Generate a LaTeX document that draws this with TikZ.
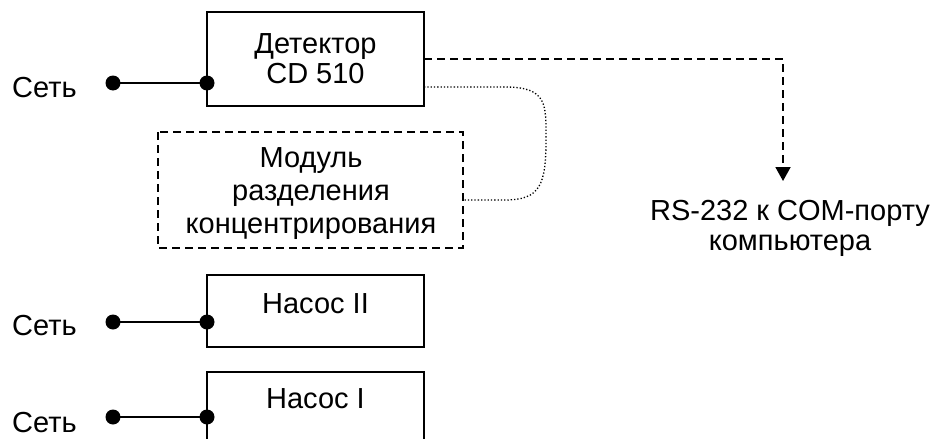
\documentclass[tikz,border=0pt]{standalone}
\usepackage{fontspec}
\setmainfont{Liberation Sans}
\usetikzlibrary{arrows.meta}
\begin{document}
\begin{tikzpicture}[x=1pt,y=-1pt,
  lbl/.style={font=\fontsize{29}{30}\selectfont, inner sep=0pt, align=center},
  solidbox/.style={draw, line width=1.9pt},
  dashbox/.style={draw, line width=1.9pt, dash pattern=on 8pt off 5pt},
  wire/.style={line width=1.9pt},
  pin/.style={circle, fill, inner sep=0pt, minimum size=15pt},
  datalink/.style={line width=1.9pt, dash pattern=on 8pt off 5pt, -{Triangle[length=14pt,width=15pt]}},
  auxlink/.style={line width=1.3pt, dotted}]
\useasboundingbox (0,0) rectangle (938,439);
% boxes
\draw[solidbox] (207,12) rectangle (424,106);
\coordinate (detW) at (207,83);
\coordinate (detE) at (424,59);
\coordinate (detE2) at (424,87);
\node[lbl, anchor=base] (det) at (315.5,83) {Детектор\\CD 510};
\draw[dashbox] (158,132) rectangle (463,248);
\coordinate (modE) at (463,200);
\node[lbl, anchor=base, font=\fontsize{29}{33}\selectfont] (mod) at (311,233) {Модуль\\разделения\\концентрирования};
\draw[solidbox] (207,275) rectangle (424,347);
\coordinate (p2W) at (207,322);
\node[lbl, anchor=base] (p2) at (315.5,313) {Насос II};
\draw[solidbox] (207,445) -- (207,372) -- (424,372) -- (424,445);
\coordinate (p1W) at (207,417);
\node[lbl, anchor=base] (p1) at (315.5,408) {Насос I};
% mains
\node[lbl, anchor=base west] (s1) at (12,97) {Сеть};
\node[lbl, anchor=base west] (s2) at (12,335) {Сеть};
\node[lbl, anchor=base west] (s3) at (12,432) {Сеть};
\node[pin] (d1) at (113,83) {};
\node[pin] (d2) at (113,322) {};
\node[pin] (d3) at (113,417) {};
\node[pin] at (detW) {};
\node[pin] at (p2W) {};
\node[pin] at (p1W) {};
\draw[wire] (d1.center) -- (detW);
\draw[wire] (d2.center) -- (p2W);
\draw[wire] (d3.center) -- (p1W);
% RS-232
\node[lbl, anchor=base] (rs) at (790,250) {RS-232 к COM-порту\\компьютера};
\coordinate (turn) at (783,59);
\coordinate (tip) at (783,181);
\draw[datalink] (detE) -- (turn) -- (tip);
% dotted link
\draw[auxlink] (detE2) -- (505,87) .. controls (548,87) and (546,105) .. (546,140)
  .. controls (546,185) and (540,200) .. (505,200) -- (modE);
\end{tikzpicture}
\end{document}
